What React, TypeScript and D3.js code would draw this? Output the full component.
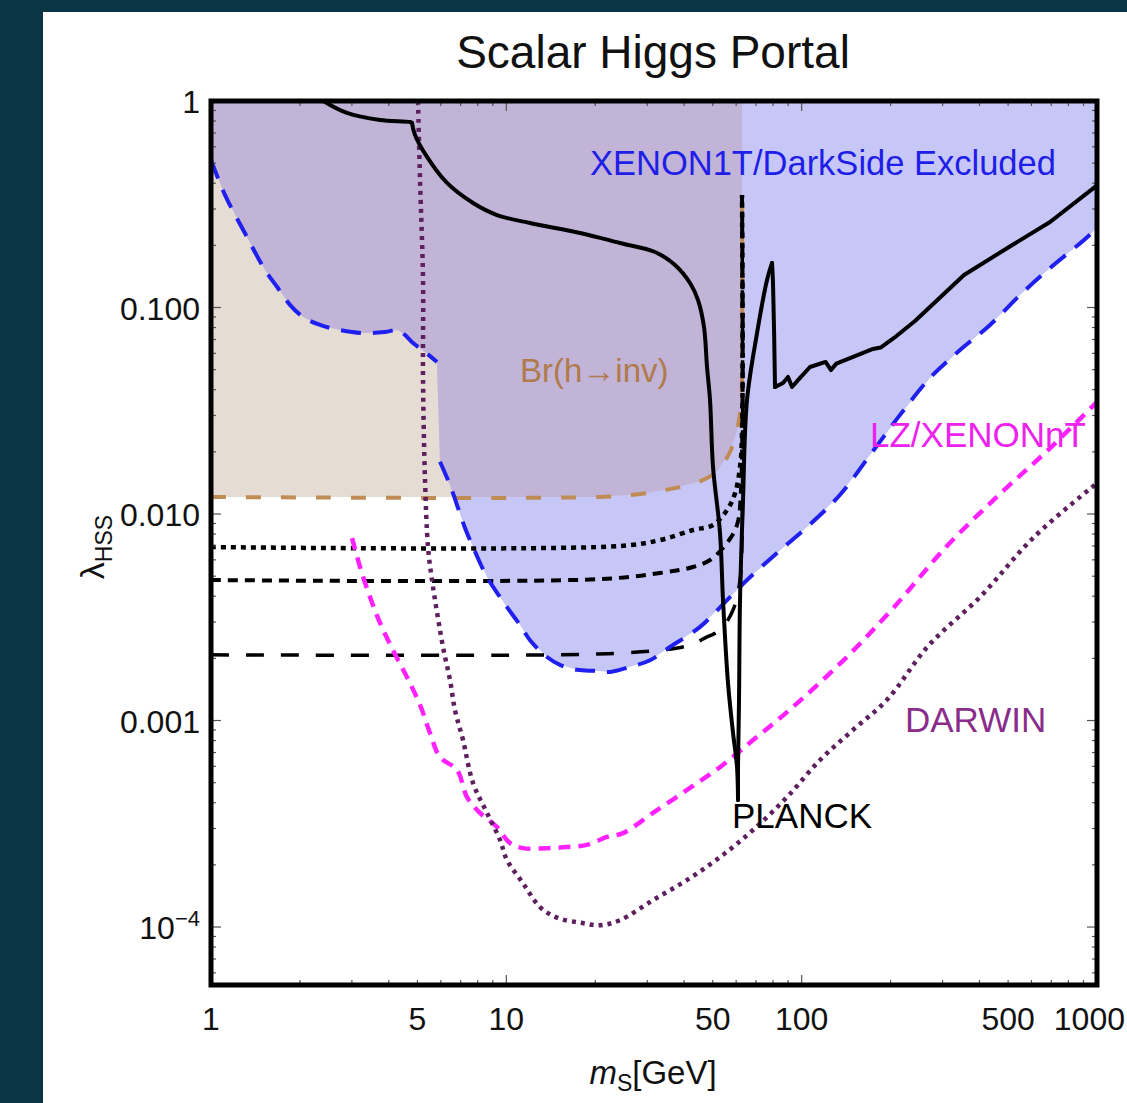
import React from 'react';
import * as d3 from 'd3';

type P = [number, number];

// XENON1T/DarkSide exclusion boundary (two pieces)
const xenonUpper: P[] = [
  [1, 0.518], [1.115, 0.351], [1.324, 0.2195], [1.523, 0.152], [1.673, 0.126],
  [1.851, 0.103], [2.049, 0.09], [2.339, 0.0823], [2.734, 0.0778], [3.271, 0.0752],
  [3.883, 0.0761], [4.298, 0.0778], [4.54, 0.0736], [4.831, 0.0673], [5.305, 0.0609],
  [5.824, 0.0545],
];
const xenonLower: P[] = [
  [5.962, 0.0179], [6.447, 0.0138], [6.808, 0.01106], [7.245, 0.00856], [7.714, 0.00692],
  [8.602, 0.00495], [9.52, 0.00396], [10.05, 0.00354], [11.13, 0.0029], [12.03, 0.00245],
  [13.73, 0.00203], [15.19, 0.00186], [17.35, 0.00176], [19.97, 0.00174], [22.44, 0.00172],
  [26.23, 0.00182], [30.66, 0.00196], [35.83, 0.00227], [45.27, 0.00284], [55.88, 0.00383],
  [65.31, 0.00479], [82.52, 0.00648], [104.3, 0.00865], [134.9, 0.0124], [170.4, 0.0193],
  [215.3, 0.0302], [272, 0.0456], [343.6, 0.0622], [434.2, 0.0823], [548.8, 0.1149],
  [693.4, 0.1553], [903.6, 0.2123], [1000, 0.2427],
];
// Br(h -> inv) bound
const brInv: P[] = [
  [1, 0.0121], [20.76, 0.0121], [28.36, 0.0125], [35.83, 0.0132], [45.27, 0.0144],
  [52.08, 0.0163], [57.2, 0.02], [60.41, 0.0255], [62.32, 0.0337], [62.81, 0.0446],
  [62.81, 0.351],
];
// black reference curves
const blackDotted: P[] = [
  [1, 0.00692], [24.26, 0.007], [33.14, 0.00748], [42.86, 0.00837], [50.1, 0.00885],
  [55.88, 0.01045], [59.48, 0.0126], [61.84, 0.0169], [62.81, 0.0247], [62.81, 0.351],
];
const blackShortDash: P[] = [
  [1, 0.00479], [20.76, 0.00484], [33.14, 0.00518], [42.86, 0.00554], [48.94, 0.00599],
  [55.88, 0.00724], [60.41, 0.00885], [62.32, 0.0131], [62.81, 0.351],
];
const blackLongDash: P[] = [
  [1, 0.00208], [15.19, 0.00208], [24.26, 0.00212], [33.14, 0.00219], [41.87, 0.00232],
  [47.81, 0.00254], [52.91, 0.00274], [58.56, 0.00343], [61.84, 0.00479], [62.81, 0.00748],
  [62.81, 0.351],
];
// relic abundance (PLANCK)
const planck: P[] = [
  [2.40, 1.0], [2.886, 0.875], [3.735, 0.809], [4.72, 0.791], [4.794, 0.782],
  [4.907, 0.684], [5.388, 0.536], [6.297, 0.401], [7.714, 0.3207], [9.299, 0.2805],
  [12.03, 0.2565], [17.77, 0.2295], [24.26, 0.2053], [31.87, 0.1857], [37.25, 0.1607],
  [41.87, 0.1314], [44.57, 0.1087], [46.7, 0.0804], [47.81, 0.0515], [48.94, 0.0357],
  [50.1, 0.0169], [52.91, 0.00809], [54.16, 0.00383], [56.31, 0.00152], [58.56, 0.00087],
  [60.41, 0.000595], [60.88, 0.000412], [60.88, 0.000595], [61.36, 0.00126], [61.84, 0.00383],
  [63.3, 0.0117], [65.31, 0.0357], [70.61, 0.0752], [76.33, 0.1359], [79.36, 0.1643],
  [79.98, 0.1314], [81.24, 0.0412], [86.47, 0.0431], [89.91, 0.0461], [92.75, 0.0412],
  [98.72, 0.0456], [106.7, 0.0515], [120.5, 0.0545], [125.7, 0.0498], [131, 0.0535],
  [174.4, 0.063], [185, 0.064], [205.4, 0.0712], [242, 0.086], [354.6, 0.1437],
  [503.7, 0.1963], [693.4, 0.2594], [1000, 0.39],
];
// indices in `planck` where the curve has a sharp corner
const planckCorners = [4, 26, 34, 36];
// LZ / XENONnT projection
const lzXenonnt: P[] = [
  [3.003, 0.00765], [3.196, 0.00554], [3.454, 0.00396], [3.735, 0.00297], [4.133, 0.00219],
  [4.611, 0.00162], [5.102, 0.00119], [5.514, 0.00087], [5.962, 0.000665], [6.808, 0.000576],
  [7.358, 0.000426], [8.143, 0.000357], [9.299, 0.000305], [10.29, 0.000255], [11.39, 0.000241],
  [13.73, 0.000241], [16.05, 0.000244], [18.76, 0.00025], [21.93, 0.000273], [24.83, 0.000285],
  [31.38, 0.000357], [40.9, 0.000461], [52.91, 0.000595], [68.43, 0.000804], [90.61, 0.00112],
  [140.2, 0.00199], [205.4, 0.00354], [308.2, 0.00692], [465.9, 0.0124], [682.6, 0.0204],
  [1000, 0.0349],
];
// DARWIN projection
const darwin: P[] = [
  [5.023, 1.0], [5.102, 0.414], [5.223, 0.1359], [5.223, 0.0446], [5.305, 0.0146],
  [5.43, 0.00692], [5.601, 0.00479], [6.104, 0.00227], [6.447, 0.00157], [6.703, 0.00112],
  [7.134, 0.000804], [7.714, 0.000498], [8.602, 0.000357], [9.52, 0.000264], [10.05, 0.000211],
  [11.39, 0.000163], [13.0, 0.000125], [14.85, 0.000111], [17.77, 0.000105], [20.76, 0.000102],
  [24.26, 0.000108], [31.38, 0.000135], [40.9, 0.000169], [52.91, 0.000218], [68.43, 0.000295],
  [89.21, 0.000426], [115.4, 0.000644], [149.2, 0.0009], [194.5, 0.00126], [269.9, 0.00232],
  [404.8, 0.00401], [612, 0.00774], [1000, 0.0141],
];

const xTickVals = [1, 5, 10, 50, 100, 500, 1000];
const xTickLabels = ['1', '5', '10', '50', '100', '500', '1000'];
const yTickVals = [1, 0.1, 0.01, 0.001, 0.0001];
const yTickLabels = ['1', '0.100', '0.010', '0.001', '10^-4'];

const W = 1127, H = 1103;
const L = 211, R = 1097, T = 101, B = 985;
const FONT = '"Liberation Sans", Arial, sans-serif';

export default function App() {
  const x = d3.scaleLog().domain([1, 1000]).range([L, R]);
  const y = d3.scaleLog().domain([5.24e-5, 1]).range([B, T]);
  const line = d3.line<P>().x(d => x(d[0])).y(d => y(d[1]));
  const smooth = d3.line<P>().x(d => x(d[0])).y(d => y(d[1])).curve(d3.curveCatmullRom.alpha(0.5));

  const bluePoly: P[] = [...xenonUpper, ...xenonLower, [1000, 1], [1, 1]];
  const beigePoly: P[] = [...brInv, [62.81, 1], [1, 1]];

  // split relic curve at its sharp corners; last piece is jagged (linear)
  const cuts = [0, ...planckCorners, planck.length - 1];
  const planckPieces = cuts.slice(0, -1).map((c, i) => planck.slice(c, cuts[i + 1] + 1));

  const minorX: number[] = [];
  [1, 10, 100].forEach(dec => { for (let k = 2; k <= 9; k++) minorX.push(k * dec); });
  const minorY: number[] = [];
  [1e-5, 1e-4, 1e-3, 1e-2, 1e-1].forEach(dec => {
    for (let k = 2; k <= 9; k++) { const v = k * dec; if (v > 5.24e-5 && v < 1) minorY.push(v); }
  });
  const majorX = [1, 10, 100, 1000];

  return (
    <svg width={W} height={H} style={{ position: 'absolute', left: 0, top: 0 }} fontFamily={FONT}>
      <defs>
        <clipPath id="plot"><rect x={L} y={T} width={R - L} height={B - T} /></clipPath>
        <clipPath id="beige"><path d={line(beigePoly) + 'Z'} /></clipPath>
      </defs>
      <rect x={0} y={0} width={W} height={H} fill="#0b3444" />
      <rect x={43} y={12} width={W - 43} height={H - 12} fill="#ffffff" />

      <g clipPath="url(#plot)">
        <path d={line(beigePoly) + 'Z'} fill="#e5dcd4" />
        <path d={line(bluePoly) + 'Z'} fill="#c6c7f6" />
        <path d={line(bluePoly) + 'Z'} fill="#c1b4d6" clipPath="url(#beige)" />

        <path d={smooth(brInv) || ''} fill="none" stroke="#c08c55" strokeWidth={4} strokeDasharray="15,20" />
        <path d={smooth(blackLongDash) || ''} fill="none" stroke="#000" strokeWidth={3.5} strokeDasharray="18,17" />
        <path d={smooth(blackShortDash) || ''} fill="none" stroke="#000" strokeWidth={4} strokeDasharray="10,7" />
        <path d={smooth(blackDotted) || ''} fill="none" stroke="#000" strokeWidth={4.5} strokeDasharray="5,5" />
        <path d={smooth(xenonUpper) || ''} fill="none" stroke="#1f1fef" strokeWidth={4} strokeDasharray="20,12" />
        <path d={smooth(xenonLower) || ''} fill="none" stroke="#1f1fef" strokeWidth={4} strokeDasharray="20,12" />
        <path d={smooth(lzXenonnt) || ''} fill="none" stroke="#ff22ff" strokeWidth={4.5} strokeDasharray="12,8" />
        <path d={smooth(darwin) || ''} fill="none" stroke="#5e1f5e" strokeWidth={4.5} strokeDasharray="4,5" />
        {planckPieces.map((pc, i) => (
          <path key={'pl' + i} d={(i === planckPieces.length - 1 ? line(pc) : smooth(pc)) || ''}
            fill="none" stroke="#000" strokeWidth={4} strokeLinejoin="round" strokeLinecap="round" />
        ))}
      </g>

      {/* ticks */}
      <g stroke="#555" strokeWidth={1.2}>
        {minorX.map(v => (
          <g key={'mx' + v}>
            <line x1={x(v)} x2={x(v)} y1={B} y2={B - 5} />
            <line x1={x(v)} x2={x(v)} y1={T} y2={T + 5} />
          </g>
        ))}
        {majorX.map(v => (
          <g key={'Mx' + v}>
            <line x1={x(v)} x2={x(v)} y1={B} y2={B - 10} />
            <line x1={x(v)} x2={x(v)} y1={T} y2={T + 10} />
          </g>
        ))}
        {minorY.map(v => (
          <g key={'my' + v}>
            <line x1={L} x2={L + 5} y1={y(v)} y2={y(v)} />
            <line x1={R} x2={R - 5} y1={y(v)} y2={y(v)} />
          </g>
        ))}
        {yTickVals.map(v => (
          <g key={'My' + v}>
            <line x1={L} x2={L + 10} y1={y(v)} y2={y(v)} />
            <line x1={R} x2={R - 10} y1={y(v)} y2={y(v)} />
          </g>
        ))}
      </g>

      <rect x={L} y={T} width={R - L} height={B - T} fill="none" stroke="#000" strokeWidth={5} />

      {/* tick labels */}
      <g fontSize={32} fill="#111">
        {xTickVals.map((v, i) => {
          const last = i === xTickVals.length - 1;
          return (
            <text key={'xl' + v} x={last ? W - 2 : x(v)} y={1030} textAnchor={last ? 'end' : 'middle'}>
              {xTickLabels[i]}
            </text>
          );
        })}
        {yTickVals.map((v, i) => {
          const lab = yTickLabels[i];
          if (lab.includes('^')) {
            const [base, exp] = lab.split('^');
            return (
              <text key={'yl' + v} x={200} y={y(v) + 12} textAnchor="end">
                {base}<tspan dy={-13} fontSize={22}>{exp.replace('-', '\u2212')}</tspan>
              </text>
            );
          }
          return <text key={'yl' + v} x={200} y={y(v) + 12} textAnchor="end">{lab}</text>;
        })}
      </g>

      {/* title and axis labels */}
      <text x={653} y={68} textAnchor="middle" fontSize={46} fill="#111">Scalar Higgs Portal</text>
      <text x={653} y={1084} textAnchor="middle" fontSize={33} fill="#111">
        <tspan fontStyle="italic">m</tspan><tspan dy={7} fontSize={23}>S</tspan><tspan dy={-7}>[GeV]</tspan>
      </text>
      <text transform="translate(104,547) rotate(-90)" textAnchor="middle" fontSize={34} fill="#111">
        λ<tspan dy={8} fontSize={23}>HSS</tspan>
      </text>

      {/* region / curve labels */}
      <text x={590} y={175} fontSize={34.5} fill="#1e1ee8">XENON1T/DarkSide Excluded</text>
      <text x={520} y={382} fontSize={33} fill="#b07a4c">Br(h→inv)</text>
      <text x={870} y={447} fontSize={35} fill="#ee22ee">LZ/XENONnT</text>
      <text x={905} y={732} fontSize={35} fill="#8a2d8a">DARWIN</text>
      <text x={732} y={828} fontSize={35} fill="#000">PLANCK</text>
    </svg>
  );
}
